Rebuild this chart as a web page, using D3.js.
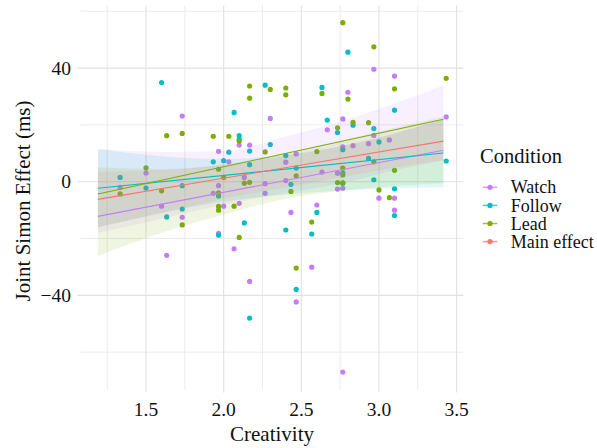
<!DOCTYPE html>
<html>
<head>
<meta charset="utf-8">
<script src="https://cdn.jsdelivr.net/npm/d3@7"></script>
<style>
body { margin: 0; background: #fff; }
text { font-family: "Liberation Serif", "Times New Roman", serif; fill: #111; }
</style>
</head>
<body>
<div id="chart"></div>
<script>
// ---- data ----
var conditions = ["Watch", "Follow", "Lead"];
var legendLabels = ["Watch", "Follow", "Lead", "Main effect"];
var colors = ["#C77CFF", "#00BFC4", "#7CAE00", "#F8766D"];

var watchX = [1.333,1.5,1.6,1.633,1.733,1.733,1.933,1.967,1.967,1.967,2.0,2.033,2.067,2.1,2.1,2.133,2.167,2.167,2.267,2.267,2.3,2.4,2.4,2.433,2.467,2.467,2.567,2.6,2.633,2.667,2.733,2.733,2.767,2.767,2.767,2.767,2.8,2.833,2.933,2.967,2.967,3.0,3.067,3.1,3.1,3.1,3.433];
var watchY = [-2.0,3.1,-8.6,-25.9,23.1,-12.5,-4.1,10.7,-1.4,-18.2,-8.6,7.0,-23.6,12.9,-7.6,1.5,12.9,-35.1,-0.7,-4.1,22.3,6.9,0.4,-10.8,9.8,-42.3,-30.1,-8.2,3.4,18.3,3.0,-2.6,22.1,12.3,-2.3,-67.0,31.5,12.7,13.4,39.6,16.3,-5.8,14.7,37.2,-5.8,-10.0,22.8];

var followX = [1.333,1.5,1.6,1.633,1.733,1.733,1.933,1.967,1.967,2.0,2.033,2.067,2.1,2.1,2.133,2.167,2.167,2.167,2.267,2.3,2.4,2.4,2.433,2.467,2.467,2.567,2.6,2.633,2.667,2.733,2.767,2.767,2.767,2.8,2.833,2.933,2.967,2.967,3.0,3.1,3.1,3.1,3.433];
var followY = [1.5,-2.2,34.9,-12.4,-1.4,-9.6,7.0,-5.0,-18.8,7.4,10.4,24.4,16.2,14.9,-14.5,10.8,6.0,-48.0,34.0,13.1,9.2,-17.0,-0.9,4.8,-37.9,-18.4,-10.8,33.2,21.7,17.3,11.3,3.1,-0.5,45.6,19.9,8.2,18.7,0.7,14.0,25.2,-2.5,-11.9,7.3];

var leadX = [1.333,1.5,1.6,1.633,1.733,1.733,1.933,1.967,1.967,1.967,1.967,2.0,2.033,2.067,2.1,2.1,2.133,2.167,2.167,2.167,2.267,2.3,2.4,2.4,2.433,2.467,2.467,2.567,2.6,2.633,2.733,2.733,2.767,2.767,2.767,2.767,2.8,2.833,2.933,2.967,2.967,3.0,3.067,3.1,3.1,3.433];
var leadY = [-4.3,4.9,-3.2,16.2,17.0,-15.2,16.0,4.4,-3.9,-8.7,-10.0,1.5,16.0,-8.6,14.3,-19.6,-0.5,33.7,29.4,-0.2,10.5,32.5,33.0,30.6,-3.4,2.1,-30.4,-14.2,10.6,31.1,19.0,-0.3,56.0,4.8,2.4,-0.4,29.1,20.9,20.8,47.5,7.0,-2.9,-5.6,32.7,4.0,36.4];

// fitted lines (start, end)
var fitX = [1.19, 3.415];
var watchFit = [-12.2, 11.1];
var followFit = [-2.3, 10.1];
var leadFit = [-4.3, 22.0];
var mainFit = [-6.2, 14.3];

// confidence bands
var bandX = [1.19, 1.6, 2.0, 2.4, 2.8, 3.1, 3.415];
var watchLo = [-18, -13, -8, -4, 0, 4, 7.6];
var watchHi = [11.5, 10.5, 10.8, 16, 22, 27.5, 34];
var followLo = [-16, -11, -7, -4.5, -3, -2.3, -1.9];
var followHi = [11.5, 9, 8, 9.5, 13, 17, 22];
var leadLo = [-26.2, -18, -11.5, -6, -3, -1.5, -0.5];
var leadHi = [5, 4.5, 6, 10, 15, 19, 23];
var mainLo = [-16, -11, -6, -2, 2, 5, 7.6];
var mainHi = [3.5, 4, 6, 9, 13, 17, 22];

var xMajor = [1.5, 2.0, 2.5, 3.0, 3.5];
var xMinor = [1.25, 1.75, 2.25, 2.75, 3.25];
var yMajor = [-40, 0, 40];
var yMinor = [-60, -20, 20, 60];

// ---- layout ----
var width = 597, height = 448;
var panel = {left: 80.5, right: 463.6, top: 5.2, bottom: 389.5};

var svg = d3.select("#chart").append("svg")
    .attr("width", width)
    .attr("height", height);

var x = d3.scaleLinear().domain([1.078, 3.545]).range([panel.left, panel.right]);
var y = d3.scaleLinear().domain([-73.15, 62.15]).range([panel.bottom, panel.top]);

// grid
var grid = svg.append("g");
grid.selectAll(".vminor").data(xMinor).enter().append("line")
    .attr("x1", function(d) { return x(d); }).attr("x2", function(d) { return x(d); })
    .attr("y1", panel.top).attr("y2", panel.bottom)
    .attr("stroke", "#ebebeb").attr("stroke-width", 1);
grid.selectAll(".hminor").data(yMinor).enter().append("line")
    .attr("y1", function(d) { return y(d); }).attr("y2", function(d) { return y(d); })
    .attr("x1", panel.left).attr("x2", panel.right)
    .attr("stroke", "#ebebeb").attr("stroke-width", 1);
grid.selectAll(".vmajor").data(xMajor).enter().append("line")
    .attr("x1", function(d) { return x(d); }).attr("x2", function(d) { return x(d); })
    .attr("y1", panel.top).attr("y2", panel.bottom + 3)
    .attr("stroke", "#e2e2e2").attr("stroke-width", 1.1);
grid.selectAll(".hmajor").data(yMajor).enter().append("line")
    .attr("y1", function(d) { return y(d); }).attr("y2", function(d) { return y(d); })
    .attr("x1", panel.left - 3).attr("x2", panel.right)
    .attr("stroke", "#e2e2e2").attr("stroke-width", 1.1);

// points
var pointSets = [[watchX, watchY], [followX, followY], [leadX, leadY]];
pointSets.forEach(function(s, k) {
    svg.append("g").selectAll("circle")
        .data(d3.range(s[0].length))
        .enter().append("circle")
        .attr("cx", function(i) { return x(s[0][i]); })
        .attr("cy", function(i) { return y(s[1][i]); })
        .attr("r", 2.6)
        .attr("fill", colors[k]);
});

// bands
var bands = [[watchLo, watchHi], [followLo, followHi], [leadLo, leadHi], [mainLo, mainHi]];
var area = d3.area()
    .x(function(d) { return x(d.x); })
    .y0(function(d) { return y(d.lo); })
    .y1(function(d) { return y(d.hi); })
    .curve(d3.curveMonotoneX);
bands.forEach(function(b, k) {
    var pts = bandX.map(function(v, i) { return {x: v, lo: b[0][i], hi: b[1][i]}; });
    svg.append("path")
        .attr("d", area(pts))
        .attr("fill", colors[k])
        .attr("fill-opacity", 0.12);
});

// fitted lines
var fits = [watchFit, followFit, leadFit, mainFit];
fits.forEach(function(f, k) {
    svg.append("line")
        .attr("x1", x(fitX[0])).attr("y1", y(f[0]))
        .attr("x2", x(fitX[1])).attr("y2", y(f[1]))
        .attr("stroke", colors[k])
        .attr("stroke-width", 1.1);
});

// axis labels
svg.append("g").selectAll("text").data(xMajor).enter().append("text")
    .attr("x", function(d) { return x(d); })
    .attr("y", 416)
    .attr("text-anchor", "middle")
    .style("font-size", "19.5px")
    .text(function(d) { return d.toFixed(1); });

svg.append("g").selectAll("text").data(yMajor).enter().append("text")
    .attr("x", 71)
    .attr("y", function(d) { return y(d); })
    .attr("dy", "0.34em")
    .attr("text-anchor", "end")
    .style("font-size", "19.5px")
    .text(function(d) { return d < 0 ? "\u2212" + Math.abs(d) : d; });

svg.append("text")
    .attr("x", (panel.left + panel.right) / 2)
    .attr("y", 441)
    .attr("text-anchor", "middle")
    .style("font-size", "21px")
    .text("Creativity");

svg.append("text")
    .attr("transform", "translate(30," + 201 + ") rotate(-90)")
    .attr("text-anchor", "middle")
    .style("font-size", "21px")
    .text("Joint Simon Effect (ms)");

// legend
var legend = svg.append("g");
legend.append("text")
    .attr("x", 480).attr("y", 162.7)
    .style("font-size", "20.5px")
    .text("Condition");

var keys = legend.selectAll(".key").data(legendLabels).enter().append("g")
    .attr("transform", function(d, i) { return "translate(0," + (187.3 + i * 18.1) + ")"; });
keys.append("line")
    .attr("x1", 482.7).attr("x2", 497.3)
    .attr("stroke", function(d, i) { return colors[i]; })
    .attr("stroke-width", 1.5)
    .attr("stroke-opacity", 0.75);
keys.append("circle")
    .attr("cx", 490).attr("r", 2.6)
    .attr("fill", function(d, i) { return colors[i]; });
keys.append("text")
    .attr("x", 510.7).attr("dy", "0.34em")
    .style("font-size", "18px")
    .text(function(d) { return d; });
</script>
</body>
</html>
